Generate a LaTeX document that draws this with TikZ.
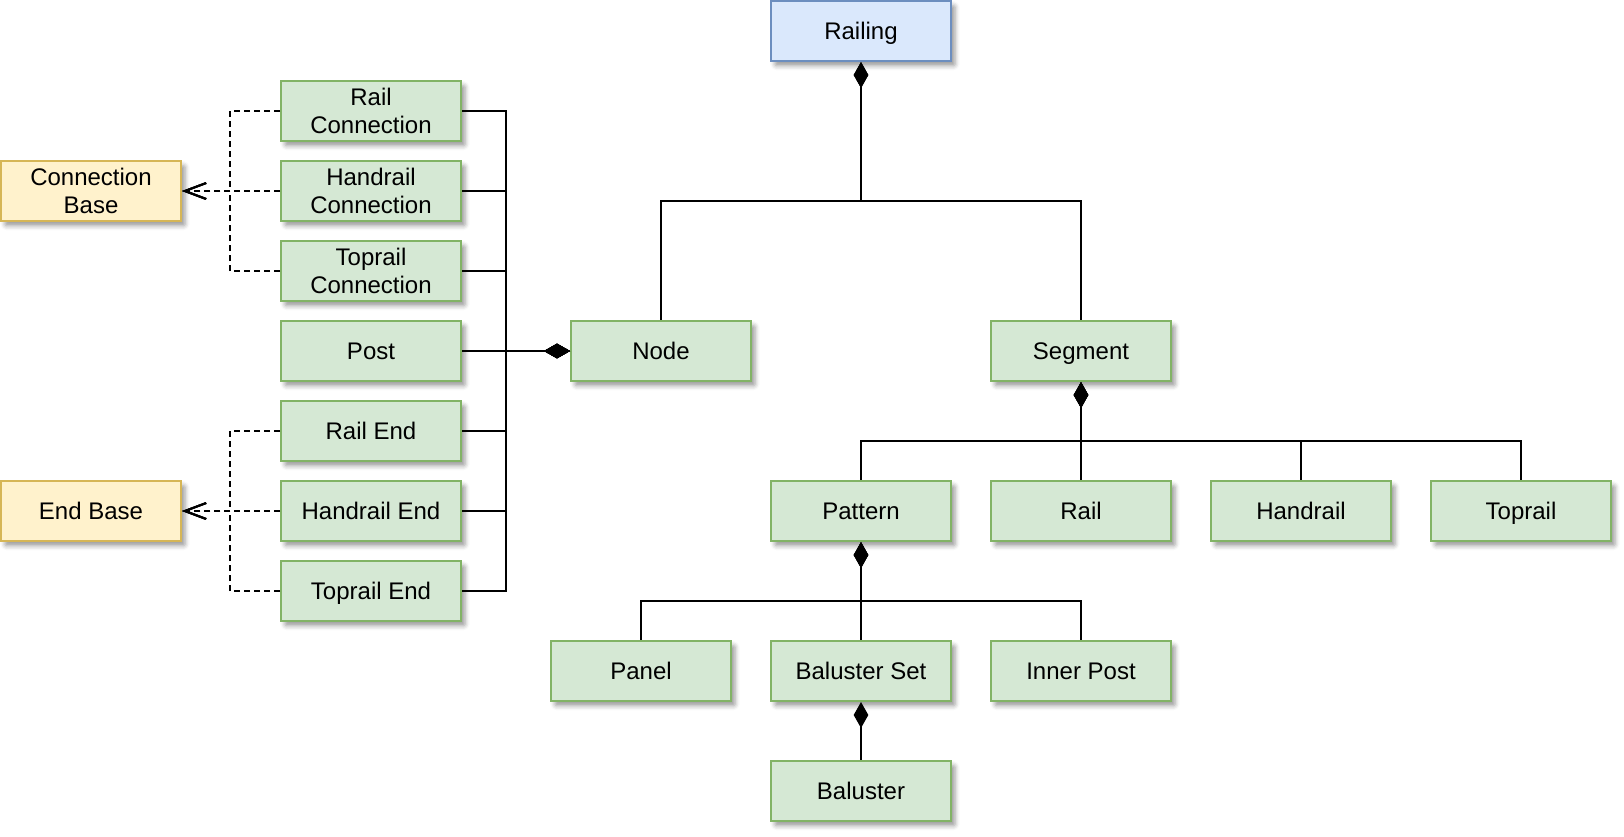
\documentclass[tikz,border=0pt]{standalone}
\usepackage{fontspec}
\setmainfont{Liberation Sans}
\usetikzlibrary{arrows.meta,shadows.blur}

\definecolor{greenfill}{RGB}{213,232,212}
\definecolor{greenline}{RGB}{130,179,102}
\definecolor{bluefill}{RGB}{218,232,252}
\definecolor{blueline}{RGB}{108,142,191}
\definecolor{yellowfill}{RGB}{255,242,204}
\definecolor{yellowline}{RGB}{214,182,86}
\definecolor{shadowgrey}{RGB}{90,90,120}

\tikzset{every picture/.style={line width=0.75pt}}
\tikzset{
  box/.style={draw, line width=1.5pt, minimum width=135pt, minimum height=45pt,
    align=center, font=\fontsize{18}{21}\selectfont, text height=13pt, text depth=0pt,
    blur shadow={shadow xshift=3pt, shadow yshift=-3.5pt, shadow blur radius=3.5pt,
      shadow opacity=40, shadow blur extra rounding=1pt, fill=shadowgrey}},
  twoline/.style={text height=, text depth=},
  partbox/.style={box, fill=greenfill, draw=greenline},
  rootbox/.style={box, fill=bluefill, draw=blueline},
  basebox/.style={box, fill=yellowfill, draw=yellowline},
  comp/.style={draw, line width=1.5pt, {Diamond[length=19.5pt,width=11pt]}-},
  inh/.style={draw, line width=1.5pt, dash pattern=on 4.5pt off 3pt, -{Straight Barb[length=16pt,width=12pt]}}
}

\begin{document}
\begin{tikzpicture}[x=0.75pt,y=0.75pt,yscale=-1,xscale=1]
\useasboundingbox (0,0) rectangle (1624,836);

% Root
\node[rootbox] (rl) at (861,31) {Railing};
% Node and Segment
\node[partbox] (nd) at (661,351) {Node};
\node[partbox] (sg) at (1081,351) {Segment};
% Node parts
\node[partbox,twoline] (rc) at (371,111) {Rail\\Connection};
\node[partbox,twoline] (hc) at (371,191) {Handrail\\Connection};
\node[partbox,twoline] (tc) at (371,271) {Toprail\\Connection};
\node[partbox] (po) at (371,351) {Post};
\node[partbox] (re) at (371,431) {Rail End};
\node[partbox] (he) at (371,511) {Handrail End};
\node[partbox] (te) at (371,591) {Toprail End};
% Bases
\node[basebox,twoline] (cb) at (91,191) {Connection\\Base};
\node[basebox] (eb) at (91,511) {End Base};
% Segment parts
\node[partbox] (pt) at (861,511) {Pattern};
\node[partbox] (ra) at (1081,511) {Rail};
\node[partbox] (hr) at (1301,511) {Handrail};
\node[partbox] (tr) at (1521,511) {Toprail};
% Pattern parts
\node[partbox] (pn) at (641,671) {Panel};
\node[partbox] (bs) at (861,671) {Baluster Set};
\node[partbox] (ip) at (1081,671) {Inner Post};
\node[partbox] (ba) at (861,791) {Baluster};

% Railing composition
\draw[comp] (rl.south) -- ([yshift=104pt]rl.south) -| (nd.north);
\draw[comp] (rl.south) -- ([yshift=104pt]rl.south) -| (sg.north);
% Node composition
\foreach \p in {rc,hc,tc,re,he,te}
  \draw[comp] (nd.west) -- ([xshift=-48pt]nd.west) |- (\p.east);
\draw[comp] (nd.west) -- (po.east);
% Segment composition
\foreach \p in {pt,ra,hr,tr}
  \draw[comp] (sg.south) -- ([yshift=44pt]sg.south) -| (\p.north);
% Pattern composition
\foreach \p in {pn,bs,ip}
  \draw[comp] (pt.south) -- ([yshift=44pt]pt.south) -| (\p.north);
\draw[comp] (bs.south) -- (ba.north);

% Generalisation
\draw[inh] (rc.west) -- ([xshift=-37.5pt]rc.west) |- (cb.east);
\draw[inh] (hc.west) -- (cb.east);
\draw[inh] (tc.west) -- ([xshift=-37.5pt]tc.west) |- (cb.east);
\draw[inh] (re.west) -- ([xshift=-37.5pt]re.west) |- (eb.east);
\draw[inh] (he.west) -- (eb.east);
\draw[inh] (te.west) -- ([xshift=-37.5pt]te.west) |- (eb.east);

\end{tikzpicture}
\end{document}
